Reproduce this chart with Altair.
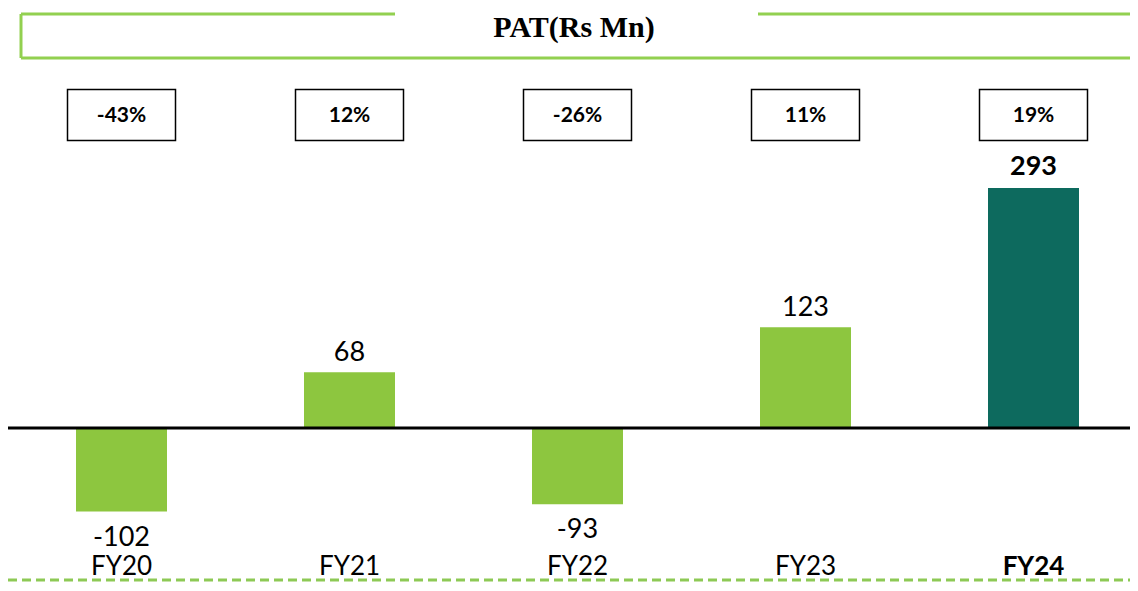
import altair as alt
import pandas as pd

years = ["FY20", "FY21", "FY22", "FY23", "FY24"]
pat = [-102, 68, -93, 123, 293]
growth = ["-43%", "12%", "-26%", "11%", "19%"]
highlight = ["no", "no", "no", "no", "yes"]
title_text = "PAT(Rs Mn)"

df = pd.DataFrame({"year": years, "pat": pat, "growth": growth, "hl": highlight})
df["label"] = [str(v) for v in pat]
df["title"] = title_text
df["zero"] = 0

W, H = 1122, 575
FONT = "Lato"
LIGHT = "#8DC63F"
DARK = "#0D6A5E"
LINE_GREEN = "#92D050"

X = alt.X("year:N", sort=years, axis=None,
          scale=alt.Scale(range=[-0.5, 1139.5], paddingInner=0.6009, paddingOuter=0.30045))
YS = alt.Scale(domain=[-189.2, 512.75], nice=False, zero=False)
Y = alt.Y("pat:Q", scale=YS, axis=None)

base = alt.Chart(df)
first = base.transform_filter("datum.year == 'FY20'")

bars = base.mark_bar().encode(
    x=X, y=Y, y2="zero:Q",
    color=alt.Color("hl:N", scale=alt.Scale(domain=["no", "yes"], range=[LIGHT, DARK]), legend=None),
)

zero = first.mark_rule(color="black", strokeWidth=3).encode(
    y=alt.Y("zero:Q", scale=YS, axis=None), x=alt.value(0), x2=alt.value(W)
)

pos_reg = base.transform_filter("datum.pat >= 0 && datum.hl == 'no'").mark_text(
    font=FONT, fontSize=27, dy=-11, baseline="alphabetic", color="black"
).encode(x=X, y=Y, text="label:N")
pos_bold = base.transform_filter("datum.pat >= 0 && datum.hl == 'yes'").mark_text(
    font=FONT, fontSize=27, fontWeight="bold", dy=-13, baseline="alphabetic", color="black"
).encode(x=X, y=Y, text="label:N")
neg = base.transform_filter("datum.pat < 0").mark_text(
    font=FONT, fontSize=27, dy=34, baseline="alphabetic", color="black"
).encode(x=X, y=Y, text="label:N")

box_shape = "M-1,-0.472L1,-0.472L1,0.472L-1,0.472Z"
boxes = base.mark_point(shape=box_shape, size=108 * 108, filled=True, fill="white",
                        stroke="black", strokeWidth=1.5, opacity=1).encode(
    x=X, y=alt.value(107)
)
gtext = base.mark_text(font=FONT, fontSize=21, fontWeight="bold", baseline="middle", color="black").encode(
    x=X, y=alt.value(108), text="growth:N"
)

fy_reg = base.transform_filter("datum.hl == 'no'").mark_text(
    font=FONT, fontSize=26, baseline="alphabetic", color="black"
).encode(x=X, y=alt.value(567), text="year:N")
fy_bold = base.transform_filter("datum.hl == 'yes'").mark_text(
    font=FONT, fontSize=26, fontWeight="bold", baseline="alphabetic", color="black"
).encode(x=X, y=alt.value(567), text="year:N")

dashed = first.mark_rule(color="#8DC955", strokeWidth=3, strokeDash=[9, 5]).encode(
    x=alt.value(0), x2=alt.value(W), y=alt.value(572)
)
t_left = first.mark_rule(color=LINE_GREEN, strokeWidth=3).encode(
    x=alt.value(13), x2=alt.value(387), y=alt.value(6)
)
t_right = first.mark_rule(color=LINE_GREEN, strokeWidth=3).encode(
    x=alt.value(750), x2=alt.value(W), y=alt.value(6)
)
t_vert = first.mark_rule(color=LINE_GREEN, strokeWidth=3).encode(
    x=alt.value(13), y=alt.value(6), y2=alt.value(50)
)
t_bottom = first.mark_rule(color=LINE_GREEN, strokeWidth=3).encode(
    x=alt.value(13), x2=alt.value(W), y=alt.value(50)
)
t_text = first.mark_text(font="Liberation Serif", fontSize=30, fontWeight="bold",
                         baseline="alphabetic", color="black").encode(
    x=alt.value(566), y=alt.value(29), text="title:N"
)

chart = alt.layer(
    bars, zero, pos_reg, pos_bold, neg, boxes, gtext, fy_reg, fy_bold,
    dashed, t_left, t_right, t_vert, t_bottom, t_text
).properties(
    width=W, height=H, padding=0, autosize=alt.AutoSizeParams(type="none")
).configure_view(stroke=None)

chart.save("out.html", embed_options={"renderer": "svg", "actions": False})
